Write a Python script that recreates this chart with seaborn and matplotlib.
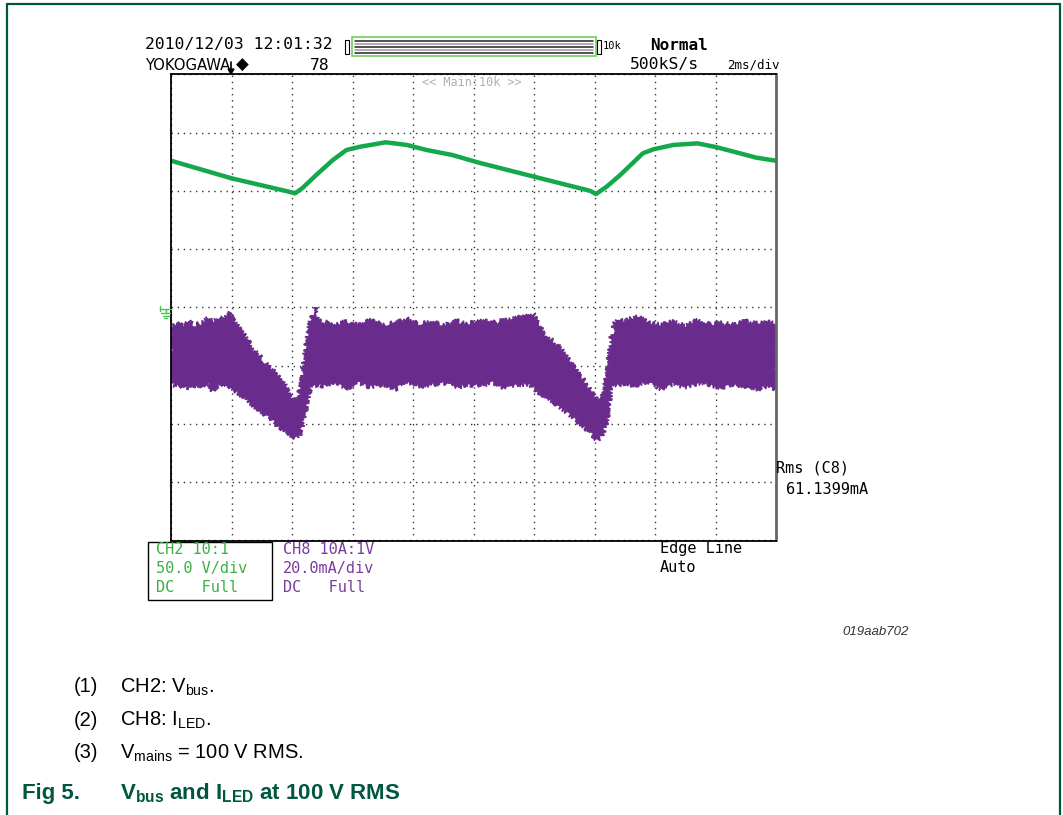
import numpy as np
import pandas as pd
import matplotlib
matplotlib.use("Agg")
import matplotlib.pyplot as plt
from matplotlib.lines import Line2D
from matplotlib.patches import Rectangle, Polygon
import seaborn as sns

# CH2: Vbus (V) against time (ms), 2 ms/div
t_bus = [0, 2.0, 3.9, 4.1, 4.35, 4.8, 5.35, 5.8, 6.25, 7.1, 7.8, 8.45, 9.3, 10.15,
         12.0, 13.85, 14.05, 14.4, 14.85, 15.6, 15.95, 16.6, 17.4, 18.05, 18.8, 19.35, 20.0]
v_bus = [126.0, 110.9, 99.4, 98.0, 102.6, 113.7, 126.6, 135.2, 138.0, 141.8, 139.5, 135.2, 130.9, 124.5,
         112.3, 100.2, 97.4, 103.7, 113.7, 132.4, 135.8, 139.5, 140.9, 137.5, 132.4, 128.6, 126.0]

# CH8: ILED noise band (mA), upper and lower envelope
t_led = [0, 0.2, 0.4, 0.6, 0.8, 1.0, 1.2, 1.4, 1.6, 1.8, 1.95,
         2.1, 2.3, 2.5, 2.7, 2.9, 3.1, 3.3, 3.5, 3.7, 3.9, 4.05, 4.2,
         4.3, 4.4, 4.5, 4.6, 4.7, 4.76, 4.85,
         5.0, 5.4, 5.8, 6.2, 6.6, 7.0, 7.4, 7.8, 8.2, 8.6, 9.0, 9.4, 9.8, 10.2, 10.6, 11.0, 11.4, 11.8,
         11.97, 12.1, 12.3, 12.5, 12.7, 12.9, 13.1, 13.3, 13.5, 13.7, 13.9, 14.07, 14.22,
         14.35, 14.45, 14.55, 14.65, 14.75,
         15.0, 15.4, 15.8, 16.2, 16.6, 17.0, 17.4, 17.8, 18.2, 18.6, 19.0, 19.4, 19.8, 20.0]
i_led_hi = [-6.7, -5.7, -6.3, -4.9, -6.0, -5.3, -3.9, -4.6, -3.3, -3.6, -1.9,
            -4.9, -8.1, -10.5, -14.2, -16.3, -18.7, -20.8, -22.8, -25.2, -29.3, -31.8, -31.4,
            -24.9, -18.0, -10.5, -4.9, -2.2, 0.2, -3.6,
            -4.9, -5.7, -4.6, -6.3, -4.3, -6.0, -5.3, -3.9, -5.7, -4.9, -6.3, -4.6, -5.7, -4.3, -5.3, -4.6, -3.6, -2.9,
            -1.9, -4.9, -8.4, -10.5, -12.2, -14.2, -17.3, -20.1, -23.2, -25.6, -29.0, -31.8, -31.8,
            -26.6, -20.1, -11.2, -5.7, -4.3,
            -4.6, -2.9, -5.3, -6.0, -4.9, -6.3, -4.3, -5.7, -5.3, -6.0, -4.6, -5.7, -4.9, -6.0]
i_led_lo = [-25.9, -27.3, -26.3, -28.3, -26.6, -26.9, -25.9, -28.7, -26.9, -27.6, -26.9,
            -28.3, -30.0, -31.1, -33.5, -34.9, -36.6, -38.3, -40.3, -41.7, -43.4, -44.5, -44.5,
            -42.8, -37.9, -32.4, -28.3, -26.3, -27.3, -25.9,
            -26.9, -25.6, -27.6, -25.9, -27.3, -26.3, -28.0, -25.6, -26.9, -26.6, -25.9, -27.6, -26.3, -26.9, -25.9, -27.3, -26.6, -26.3,
            -27.3, -28.7, -30.0, -31.4, -32.8, -34.5, -36.2, -37.9, -39.7, -41.4, -43.1, -45.5, -44.8,
            -41.4, -35.9, -29.0, -26.3, -26.9,
            -25.9, -26.9, -25.6, -28.0, -26.3, -27.3, -25.9, -26.9, -27.6, -26.3, -26.9, -28.0, -26.6, -28.3]

V_PER_DIV = 50.0
MA_PER_DIV = 20.0
MS_PER_DIV = 2.0

GREEN = "#14a84b"
PURPLE = "#6a2c8c"
DARK_GREEN = "#00563f"

W, H = 1063, 815

sns.set_theme(style="white")
plt.rcParams["font.family"] = ["DejaVu Sans"]
plt.rcParams["mathtext.default"] = "regular"

fig = plt.figure(figsize=(W / 100, H / 100), dpi=100)


def fx(x):
    return x / W


def fy(y):
    return 1 - y / H


# scope screen
ax = fig.add_axes([fx(171), fy(540.5), (776 - 171) / W, (540.5 - 74.5) / H])
ax.set_xlim(0, 10 * MS_PER_DIV)
ax.set_ylim(-4, 4)
ax.set_xticks(np.arange(0, 10 * MS_PER_DIV + 1, MS_PER_DIV))
ax.set_yticks(np.arange(-4, 5, 1))
ax.set_xticklabels([])
ax.set_yticklabels([])
ax.tick_params(length=0)
ax.grid(True, color="#333333", linestyle=(0, (1, 3.4)), linewidth=1.0)
ax.set_axisbelow(True)
for side, sp in ax.spines.items():
    sp.set_color("black")
    sp.set_linewidth(1.3)
ax.spines["right"].set_color("#666666")
ax.spines["right"].set_linewidth(2)

# noisy current band as one closed outline: upper edge forward, lower edge back
band_t = list(t_led) + list(t_led)[::-1]
band_i = list(i_led_hi) + list(i_led_lo)[::-1]
band = ax.fill(band_t, np.array(band_i) / MA_PER_DIV, facecolor=PURPLE,
               edgecolor=PURPLE, linewidth=1.0)[0]
band.set_sketch_params(scale=2.5, length=1.2, randomness=5)

df_bus = pd.DataFrame({"t": t_bus, "div": np.array(v_bus) / V_PER_DIV})
sns.lineplot(data=df_bus, x="t", y="div", color=GREEN, linewidth=3.2, sort=False, ax=ax)
ax.set_xlabel("")
ax.set_ylabel("")

# ground marker
gnd = [([160, 171], [309, 309]), ([165.5, 165.5], [309, 313]), ([161, 170], [313, 313]),
       ([162.5, 168.5], [315.5, 315.5]), ([164, 167], [318, 318]), ([160, 160], [306, 311])]
for xs, ys in gnd:
    fig.add_artist(Line2D([fx(v) for v in xs], [fy(v) for v in ys], color="#4cc25a", lw=1.0))

# trigger position marker
fig.add_artist(Line2D([fx(231), fx(231)], [fy(62), fy(72)], color="black", lw=1.2))
fig.add_artist(Polygon([[fx(228), fy(69)], [fx(234), fy(69)], [fx(231), fy(74)]],
                       closed=True, color="black", transform=fig.transFigure))

mono = "DejaVu Sans Mono"
# header
fig.text(fx(145), fy(45), "2010/12/03 12:01:32", family=mono, size=11.8, color="black", va="center")
fig.text(fx(145), fy(65), "YOKOGAWA", size=10.7, color="black", va="center")
fig.text(fx(236), fy(65), "\u25c6", size=12, color="black", va="center")
fig.text(fx(310), fy(65), "78", family=mono, size=11.8, color="black", va="center")
fig.text(fx(650), fy(45), "Normal", family=mono, size=11.5, color="black", va="center",
         fontweight="bold")
fig.text(fx(630), fy(65), "500kS/s", family=mono, size=11.8, color="black", va="center")
fig.text(fx(727), fy(65), "2ms/div", family=mono, size=9, color="black", va="center")
fig.text(fx(472), fy(82), "<< Main:10k >>", family=mono, size=8.5, color="#b0b0b0",
         va="center", ha="center")

# record length bar
fig.add_artist(Rectangle((fx(352), fy(56)), (596 - 352) / W, 19 / H, fill=False,
                         ec="#6fcf5f", lw=1.2, transform=fig.transFigure))
for yy, cc in [(41, "#222222"), (44, "#999999"), (47, "#222222"), (50, "#999999"), (53, "#222222")]:
    fig.add_artist(Line2D([fx(355), fx(593)], [fy(yy), fy(yy)], color=cc, lw=1.1))
for x0 in (345, 597):
    fig.add_artist(Rectangle((fx(x0), fy(54)), 4 / W, 14 / H, fill=False, ec="black",
                             lw=0.8, transform=fig.transFigure))
fig.text(fx(603), fy(46), "10k", family=mono, size=7.5, color="black", va="center")

# measurement
fig.text(fx(776), fy(468), "Rms (C8)", family=mono, size=11, color="black", va="center")
fig.text(fx(786), fy(490), "61.1399mA", family=mono, size=11, color="black", va="center")

# channel settings
fig.add_artist(Rectangle((fx(148), fy(600)), (272 - 148) / W, 58 / H, fill=False,
                         ec="black", lw=1.0, transform=fig.transFigure))
for i, s in enumerate(["CH2 10:1", "50.0 V/div", "DC   Full"]):
    fig.text(fx(156), fy(549 + 19 * i), s, family=mono, size=11, color="#3cb043", va="center")
for i, s in enumerate(["CH8 10A:1V", "20.0mA/div", "DC   Full"]):
    fig.text(fx(283), fy(549 + 19 * i), s, family=mono, size=11, color="#7b3b9c", va="center")
fig.text(fx(660), fy(549), "Edge Line", family=mono, size=11, color="black", va="center")
fig.text(fx(660), fy(568), "Auto", family=mono, size=11, color="black", va="center")

# document annotations
sans = ["Liberation Sans", "DejaVu Sans"]
fig.text(fx(842), fy(632), "019aab702", family=sans, size=9.5, style="italic",
         color="#333333", va="center")
notes = ["CH2: V$_{bus}$.", "CH8: I$_{LED}$.", "V$_{mains}$ = 100 V RMS."]
for i, s in enumerate(notes):
    y = 687 + 33 * i
    fig.text(fx(74), fy(y), f"({i + 1})", family=sans, size=14.5, color="black", va="center")
    fig.text(fx(120), fy(y), s, family=sans, size=14.5, color="black", va="center")
fig.text(fx(22), fy(793), "Fig 5.", family=sans, size=16, fontweight="bold",
         color=DARK_GREEN, va="center")
fig.text(fx(120), fy(793), "V$_{bus}$ and I$_{LED}$ at 100 V RMS", family=sans, size=16,
         fontweight="bold", color=DARK_GREEN, va="center")

# page frame
for xs, ys in [([7, 1060], [4, 4]), ([7, 7], [4, 815]), ([1060, 1060], [4, 815])]:
    fig.add_artist(Line2D([fx(v) for v in xs], [fy(v) for v in ys], color=DARK_GREEN, lw=1.6))

fig.savefig("out.png", dpi=100)
